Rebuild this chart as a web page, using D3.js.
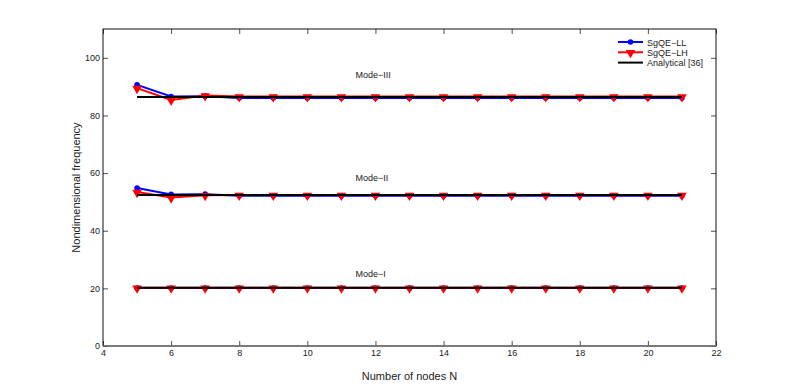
<!DOCTYPE html>
<html>
<head>
<meta charset="utf-8">
<script src="https://cdn.jsdelivr.net/npm/d3@7"></script>
<style>
  body { margin: 0; background: #fff; }
  text { font-family: "Liberation Sans", Arial, sans-serif; }
</style>
</head>
<body>
<div id="chart"></div>
<script>
// number of nodes
var nodes = [5, 6, 7, 8, 9, 10, 11, 12, 13, 14, 15, 16, 17, 18, 19, 20, 21];

// SgQE-LL (blue)
var ll_mode1 = [20.1, 20.1, 20.1, 20.1, 20.1, 20.1, 20.1, 20.1, 20.1, 20.1, 20.1, 20.1, 20.1, 20.1, 20.1, 20.1, 20.1];
var ll_mode2 = [54.8, 52.6, 52.7, 52.1, 52.1, 52.1, 52.1, 52.1, 52.1, 52.1, 52.1, 52.1, 52.1, 52.1, 52.1, 52.1, 52.1];
var ll_mode3 = [90.6, 86.6, 86.7, 86.1, 86.1, 86.1, 86.1, 86.1, 86.1, 86.1, 86.1, 86.1, 86.1, 86.1, 86.1, 86.1, 86.1];

// SgQE-LH (red)
var lh_mode1 = [20.2, 20.2, 20.2, 20.2, 20.2, 20.2, 20.2, 20.2, 20.2, 20.2, 20.2, 20.2, 20.2, 20.2, 20.2, 20.2, 20.2];
var lh_mode2 = [53.4, 51.5, 52.3, 52.4, 52.4, 52.4, 52.4, 52.4, 52.4, 52.4, 52.4, 52.4, 52.4, 52.4, 52.4, 52.4, 52.4];
var lh_mode3 = [89.5, 85.4, 86.9, 86.6, 86.6, 86.6, 86.6, 86.6, 86.6, 86.6, 86.6, 86.6, 86.6, 86.6, 86.6, 86.6, 86.6];

// Analytical [36]
var an_mode1 = [20.2, 20.2];
var an_mode2 = [52.4, 52.4];
var an_mode3 = [86.4, 86.4];
var an_nodes = [5, 21];

var x_ticks = [4, 6, 8, 10, 12, 14, 16, 18, 20, 22];
var y_ticks = [0, 20, 40, 60, 80, 100];

var mode_labels = [
  { text: "Mode\u2212III", n: 12, v: 93 },
  { text: "Mode\u2212II", n: 12, v: 57.2 },
  { text: "Mode\u2212I", n: 12, v: 23.8 },
];

var legend_items = [
  { text: "SgQE\u2212LL", color: "#0000ff", marker: "circle" },
  { text: "SgQE\u2212LH", color: "#ff0000", marker: "triangle" },
  { text: "Analytical [36]", color: "#000000", marker: null },
];

var width = 789, height = 389;
var margins = { top: 29, right: 73, bottom: 43, left: 103 };

var svg = d3.select("#chart").append("svg")
  .attr("width", width).attr("height", height);

var x = d3.scaleLinear().domain([4, 22]).range([margins.left, width - margins.right]);
var y = d3.scaleLinear().domain([0, 110]).range([height - margins.bottom, margins.top]);

// axes (MATLAB style box, ticks inward)
var tick_len = 5;
svg.append("g")
  .attr("transform", "translate(0," + y(0) + ")")
  .call(d3.axisBottom(x).tickValues(x_ticks).tickSize(-tick_len).tickPadding(3.5))
  .call((g) => g.select(".domain").remove());
svg.append("g")
  .attr("transform", "translate(0," + y(110) + ")")
  .call(d3.axisTop(x).tickValues(x_ticks).tickSize(-tick_len).tickFormat(""))
  .call((g) => g.select(".domain").remove());
svg.append("g")
  .attr("transform", "translate(" + x(4) + ",0)")
  .call(d3.axisLeft(y).tickValues(y_ticks).tickSize(-tick_len).tickPadding(3))
  .call((g) => g.select(".domain").remove());
svg.append("g")
  .attr("transform", "translate(" + x(22) + ",0)")
  .call(d3.axisRight(y).tickValues(y_ticks).tickSize(-tick_len).tickFormat(""))
  .call((g) => g.select(".domain").remove());

svg.selectAll(".tick line").attr("stroke", "#222").attr("stroke-width", 0.8);
svg.selectAll(".tick text").attr("font-size", "9px").attr("fill", "#222");

svg.append("rect")
  .attr("x", x(4)).attr("y", y(110))
  .attr("width", x(22) - x(4)).attr("height", y(0) - y(110))
  .attr("fill", "none").attr("stroke", "#111").attr("stroke-width", 1);
svg.append("line")
  .attr("x1", x(4)).attr("x2", x(22)).attr("y1", y(0)).attr("y2", y(0))
  .attr("stroke", "#777").attr("stroke-width", 1.6);

// series
var line = d3.line().x((d) => x(d[0])).y((d) => y(d[1]));
var tri = d3.symbol().type(d3.symbolTriangle).size(40);

function draw_series(values, color, marker, xs) {
  var pts = xs.map((n, i) => [n, values[i]]);
  svg.append("path").datum(pts)
    .attr("d", line).attr("fill", "none")
    .attr("stroke", color).attr("stroke-width", 2);
  if (marker === "circle") {
    svg.append("g").selectAll("circle").data(pts).enter().append("circle")
      .attr("cx", (d) => x(d[0])).attr("cy", (d) => y(d[1]))
      .attr("r", 2.8).attr("fill", color);
  } else if (marker === "triangle") {
    svg.append("g").selectAll("path").data(pts).enter().append("path")
      .attr("d", tri)
      .attr("transform", (d) => "translate(" + x(d[0]) + "," + (y(d[1]) + 0.5) + ") rotate(180)")
      .attr("fill", color);
  }
}

[ll_mode1, ll_mode2, ll_mode3].forEach((s) => draw_series(s, "#0000ff", "circle", nodes));
[lh_mode1, lh_mode2, lh_mode3].forEach((s) => draw_series(s, "#ff0000", "triangle", nodes));
[an_mode1, an_mode2, an_mode3].forEach((s) => draw_series(s, "#000000", null, an_nodes));

// mode labels
svg.selectAll(".mode-label").data(mode_labels).enter().append("text")
  .attr("x", (d) => x(d.n) - 20).attr("y", (d) => y(d.v))
  .attr("font-size", "9px").attr("fill", "#222")
  .text((d) => d.text);

// axis titles
svg.append("text")
  .attr("x", (x(4) + x(22)) / 2).attr("y", 380)
  .attr("text-anchor", "middle").attr("font-size", "11px").attr("fill", "#222")
  .text("Number of nodes N");
svg.append("text")
  .attr("transform", "translate(80," + (y(55)) + ") rotate(-90)")
  .attr("text-anchor", "middle").attr("font-size", "11px").attr("fill", "#222")
  .text("Nondimensional frequency");

// legend
var lg = svg.append("g").selectAll("g").data(legend_items).enter().append("g")
  .attr("transform", (d, i) => "translate(618," + (42 + i * 10.3) + ")");
lg.append("line").attr("x1", 0).attr("x2", 25).attr("y1", 0).attr("y2", 0)
  .attr("stroke", (d) => d.color).attr("stroke-width", 2);
lg.filter((d) => d.marker === "circle").append("circle")
  .attr("cx", 12.5).attr("cy", 0).attr("r", 2.8).attr("fill", (d) => d.color);
lg.filter((d) => d.marker === "triangle").append("path")
  .attr("d", tri).attr("transform", "translate(12.5,0.5) rotate(180)")
  .attr("fill", (d) => d.color);
lg.append("text").attr("x", 29).attr("y", 3.5)
  .attr("font-size", "9px").attr("fill", "#222")
  .text((d) => d.text);
</script>
</body>
</html>
